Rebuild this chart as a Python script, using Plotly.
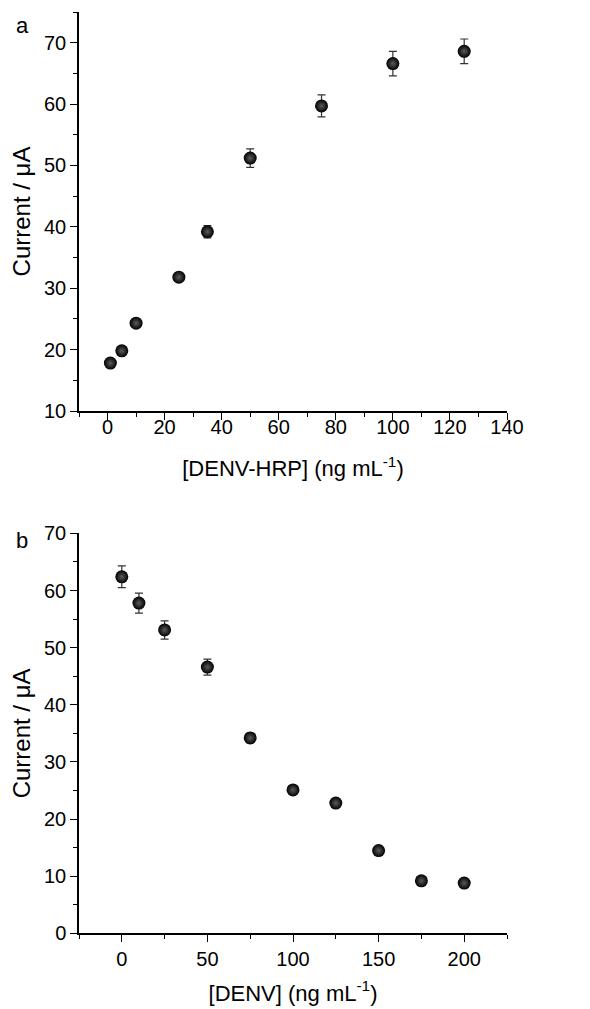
import plotly.graph_objects as go

# panel a: signal vs DENV-HRP
hrp_conc = [1, 5, 10, 25, 35, 50, 75, 100, 125]
hrp_current = [17.8, 19.8, 24.3, 31.8, 39.2, 51.2, 59.7, 66.6, 68.6]
hrp_err = [0.6, 0.6, 0.6, 0.6, 1.0, 1.5, 1.8, 2.0, 2.0]

# panel b: competitive assay vs DENV
denv_conc = [0, 10, 25, 50, 75, 100, 125, 150, 175, 200]
denv_current = [62.4, 57.8, 53.1, 46.6, 34.2, 25.1, 22.8, 14.5, 9.2, 8.8]
denv_err = [1.9, 1.75, 1.6, 1.4, 0.8, 0.6, 0.6, 0.6, 0.6, 0.6]

FONT = "Liberation Sans, Arial, sans-serif"
W, H, OFF = 590, 1009, 8  # page body adds ~8px margin


def px(x):
    return (x - OFF) / W


def py(y):
    return 1 - (y - OFF) / H


marker = dict(size=13, color="black",
              gradient=dict(type="radial", color="#5c5c5c"),
              line=dict(width=0))
err_style = dict(type="data", visible=True, color="#333333", thickness=1.2, width=4)

fig = go.Figure()
fig.add_trace(go.Scatter(x=hrp_conc, y=hrp_current, mode="markers", marker=marker,
                         error_y=dict(array=hrp_err, **err_style),
                         xaxis="x", yaxis="y", showlegend=False))
fig.add_trace(go.Scatter(x=denv_conc, y=denv_current, mode="markers", marker=marker,
                         error_y=dict(array=denv_err, **err_style),
                         xaxis="x2", yaxis="y2", showlegend=False))

ax = dict(showline=True, linecolor="black", linewidth=1.5, ticks="outside",
          ticklen=7, tickwidth=1.3, tickcolor="black", showgrid=False,
          zeroline=False, mirror=False, automargin=False,
          tickfont=dict(family=FONT, size=20, color="black"))
xtitle_font = dict(family=FONT, size=22, color="black")
ytitle_font = dict(family=FONT, size=24, color="black")
minor = dict(ticks="outside", ticklen=4, tickwidth=1.2, tickcolor="black")

xdom = [px(79), px(507)]

fig.update_layout(
    width=W, height=H,
    margin=dict(l=0, r=0, t=0, b=0),
    paper_bgcolor="white", plot_bgcolor="white",
    xaxis=dict(ax, domain=xdom, anchor="y", range=[-10, 140], dtick=20,
               minor=dict(minor, dtick=10), ticklabelstandoff=-10,
               title=dict(text="[DENV-HRP] (ng mL<sup>-1</sup>)", standoff=24,
                          font=xtitle_font)),
    yaxis=dict(ax, domain=[py(411), py(12)], anchor="x",
               range=[10, 75], dtick=10,
               minor=dict(minor, dtick=5),
               title=dict(text="Current / μA", standoff=10, font=ytitle_font)),
    xaxis2=dict(ax, domain=xdom, anchor="y2", range=[-25, 225], dtick=50,
                minor=dict(minor, dtick=25),
                title=dict(text="[DENV] (ng mL<sup>-1</sup>)", standoff=16,
                           font=xtitle_font)),
    yaxis2=dict(ax, domain=[py(933.4), py(533.4)], anchor="x2",
                range=[0, 70], dtick=10,
                minor=dict(minor, dtick=5),
                title=dict(text="Current / μA", standoff=10, font=ytitle_font)),
    annotations=[
        dict(text="a", x=px(22), y=py(25), xref="paper", yref="paper",
             xanchor="center", yanchor="middle", showarrow=False,
             font=dict(family=FONT, size=22, color="black")),
        dict(text="b", x=px(22), y=py(540), xref="paper", yref="paper",
             xanchor="center", yanchor="middle", showarrow=False,
             font=dict(family=FONT, size=22, color="black")),
    ],
)

fig.write_html("out.html")
